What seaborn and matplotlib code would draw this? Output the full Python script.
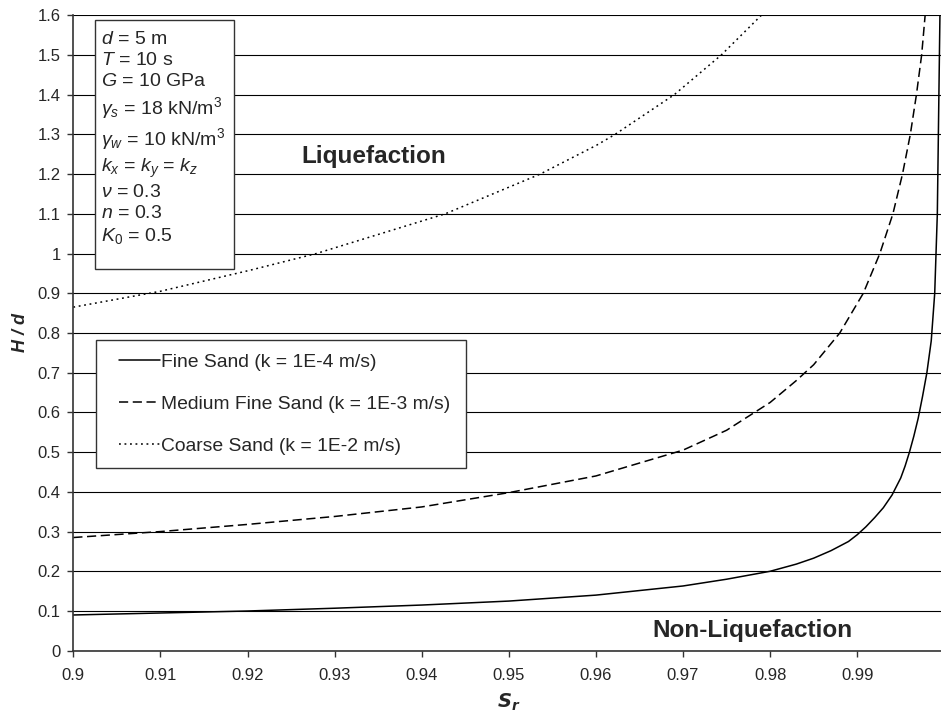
#!/usr/bin/env python3
# -*- coding: utf-8 -*-
"""Liquefaction boundary H/d vs Sr for three sand permeabilities."""

import matplotlib
matplotlib.use("Agg")
import matplotlib.pyplot as plt  # noqa: E402
from matplotlib.lines import Line2D  # noqa: E402
from matplotlib.legend_handler import HandlerLine2D  # noqa: E402
from matplotlib.patches import Rectangle  # noqa: E402
import pandas as pd  # noqa: E402
import seaborn as sns  # noqa: E402

# =============================================================================
# DATA
# =============================================================================
fine_sr = [0.900, 0.910, 0.920, 0.930, 0.940, 0.950, 0.960, 0.970, 0.975, 0.980,
           0.983, 0.985, 0.987, 0.989, 0.990, 0.991, 0.992, 0.993, 0.994, 0.995,
           0.9955, 0.996, 0.9965, 0.997, 0.9975, 0.998, 0.9985, 0.9989, 0.9992, 0.9995]
fine_hd = [0.090, 0.095, 0.100, 0.107, 0.115, 0.125, 0.140, 0.163, 0.180, 0.200,
           0.218, 0.233, 0.252, 0.275, 0.292, 0.312, 0.335, 0.360, 0.392, 0.435,
           0.465, 0.500, 0.540, 0.585, 0.640, 0.700, 0.780, 0.900, 1.100, 1.600]

medium_sr = [0.900, 0.910, 0.920, 0.930, 0.940, 0.950, 0.960, 0.970, 0.975, 0.980,
             0.983, 0.985, 0.988, 0.9907, 0.9926, 0.9941, 0.9952, 0.9961, 0.9968,
             0.9974, 0.9978]
medium_hd = [0.285, 0.300, 0.318, 0.338, 0.362, 0.398, 0.440, 0.505, 0.555, 0.625,
             0.680, 0.720, 0.800, 0.900, 1.000, 1.100, 1.200, 1.300, 1.400,
             1.500, 1.600]

coarse_sr = [0.900, 0.910, 0.9203, 0.9279, 0.935, 0.9427, 0.9536, 0.9601, 0.9622,
             0.969, 0.9744, 0.979]
coarse_hd = [0.865, 0.905, 0.958, 1.000, 1.048, 1.100, 1.200, 1.273, 1.300,
             1.400, 1.500, 1.600]

series_names = ["Fine Sand (k = 1E-4 m/s)",
                "Medium Fine Sand (k = 1E-3 m/s)",
                "Coarse Sand (k = 1E-2 m/s)"]

params_lines = [r"$d$ = 5 m", r"$T$ = 10 s", r"$G$ = 10 GPa",
                r"$\gamma_s$ = 18 kN/m$^3$", r"$\gamma_w$ = 10 kN/m$^3$",
                r"$k_x$ = $k_y$ = $k_z$", r"$\nu$ = 0.3", r"$n$ = 0.3", r"$K_{\mathit{0}}$ = 0.5"]

y_ticks = [0, 0.1, 0.2, 0.3, 0.4, 0.5, 0.6, 0.7, 0.8, 0.9, 1, 1.1, 1.2, 1.3, 1.4, 1.5, 1.6]
y_labels = ["0", "0.1", "0.2", "0.3", "0.4", "0.5", "0.6", "0.7", "0.8", "0.9",
            "1", "1.1", "1.2", "1.3", "1.4", "1.5", "1.6"]
x_ticks = [0.9, 0.91, 0.92, 0.93, 0.94, 0.95, 0.96, 0.97, 0.98, 0.99, 1.0]
x_labels = ["0.9", "0.91", "0.92", "0.93", "0.94", "0.95", "0.96", "0.97", "0.98", "0.99", "1"]

# =============================================================================
# STYLE
# =============================================================================
sns.set_theme(style="ticks")
plt.rcParams["font.family"] = ["Liberation Sans", "DejaVu Sans"]
plt.rcParams["mathtext.fontset"] = "custom"
plt.rcParams["mathtext.rm"] = "Liberation Sans"
plt.rcParams["mathtext.it"] = "Liberation Sans:italic"
plt.rcParams["mathtext.bf"] = "Liberation Sans:bold"

df = pd.concat([
    pd.DataFrame({"Sr": fine_sr, "Hd": fine_hd, "series": series_names[0]}),
    pd.DataFrame({"Sr": medium_sr, "Hd": medium_hd, "series": series_names[1]}),
    pd.DataFrame({"Sr": coarse_sr, "Hd": coarse_hd, "series": series_names[2]}),
], ignore_index=True)

fig = plt.figure(figsize=(9.41, 7.15), dpi=100)
ax = fig.add_axes([0.0779, 0.0899, 0.9256, 0.8888])

sns.lineplot(data=df, x="Sr", y="Hd", style="series", style_order=series_names,
             dashes={series_names[0]: "", series_names[1]: (6, 3), series_names[2]: (1.2, 2.4)},
             color="black", linewidth=1.1, ax=ax, sort=True, estimator=None)

ax.set_xlim(0.9, 1.0)
ax.set_ylim(0, 1.6)
ax.set_xticks(x_ticks)
ax.set_xticklabels(x_labels, fontsize=12)
ax.set_yticks(y_ticks)
ax.set_yticklabels(y_labels, fontsize=12)
ax.yaxis.grid(True, color="black", linewidth=0.8)
ax.xaxis.grid(False)
ax.set_axisbelow(True)
for side in ("top", "right"):
    ax.spines[side].set_visible(False)
for side in ("left", "bottom"):
    ax.spines[side].set_color("#333333")
    ax.spines[side].set_linewidth(1.2)
ax.tick_params(axis="both", direction="out", length=4, width=1, color="#333333")
ax.tick_params(axis="x", pad=8.5)
ax.tick_params(axis="y", pad=5)

ax.set_xlabel(r"$\mathbfit{S_r}$", fontsize=14, labelpad=6.5)
ax.set_ylabel("H / d", fontsize=13, fontweight="bold", fontstyle="italic", labelpad=6)

# Parameter box
ax.add_patch(Rectangle((0.0246, 0.6006), 0.1599, 0.3926, transform=ax.transAxes,
                       facecolor="white", edgecolor="#333333", linewidth=1, zorder=5))
ax.text(0.032, 0.975, "\n".join(params_lines), transform=ax.transAxes, ha="left", va="top",
        fontsize=14, linespacing=1.29, zorder=6)

# Region labels
ax.text(0.93447, 1.245, "Liquefaction", fontsize=17.5, fontweight="bold",
        ha="center", va="center", zorder=7)
ax.text(0.978, 0.05, "Non-Liquefaction", fontsize=17.5, fontweight="bold",
        ha="center", va="center", zorder=7)

leg = ax.legend(loc="upper left", bbox_to_anchor=(0.0261, 0.0, 0.4248, 0.4893), mode="expand",
                frameon=True, fancybox=False, edgecolor="#333333", framealpha=1, fontsize=13.9,
                handlelength=2.62, labelspacing=1.27, borderpad=0.69, handletextpad=0.08,
                borderaxespad=0, handler_map={Line2D: HandlerLine2D(xpad=0.50)})
leg.get_frame().set_linewidth(1)
leg.set_zorder(6)
for line in leg.get_lines():
    line.set_linewidth(1.1)

fig.savefig("out.png", dpi=100)
